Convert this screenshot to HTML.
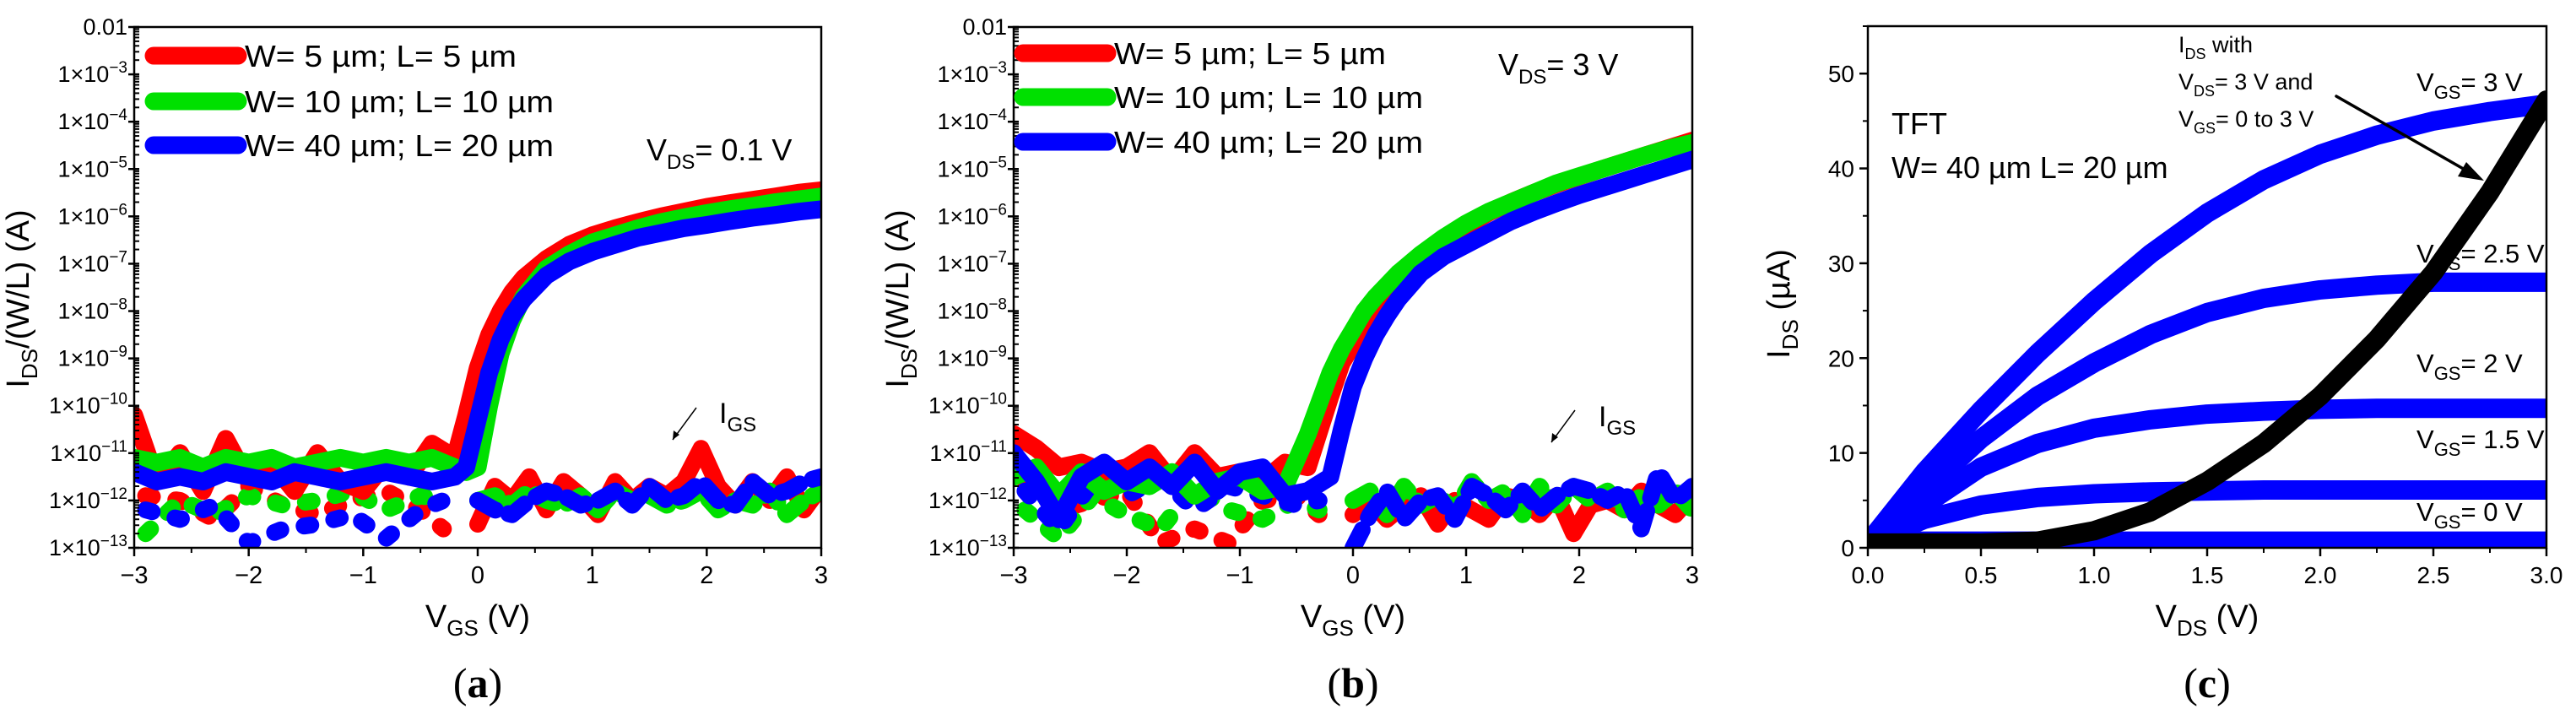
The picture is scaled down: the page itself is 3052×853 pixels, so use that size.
<!DOCTYPE html>
<html><head><meta charset="utf-8"><style>
html,body{margin:0;padding:0;background:#fff;}
svg{display:block;font-family:"Liberation Sans",sans-serif;}
</style></head><body>
<svg id="fig" width="3052" height="853" viewBox="0 0 3052 853" xmlns="http://www.w3.org/2000/svg">
<g id="pa"></g>
<g id="pb"></g>
<g id="pc"></g>
</svg>
<script>
// ---------- transfer data (log10 of I/(W/L)) ----------
const vgs = [-3,-2.8,-2.6,-2.4,-2.2,-2,-1.8,-1.6,-1.4,-1.2,-1,-0.8,-0.6,-0.4,-0.2,-0.1,0,0.1,0.2,0.3,0.4,0.6,0.8,1,1.2,1.4,1.6,1.8,2,2.2,2.4,2.6,2.8,3];
const aRed   = [-10.2,-11.6,-11.0,-11.8,-10.7,-11.6,-11.2,-11.8,-11.0,-11.6,-11.8,-11.2,-11.5,-10.8,-11.1,-10.2,-9.2,-8.5,-8.0,-7.6,-7.3,-6.9,-6.6,-6.4,-6.25,-6.12,-6.0,-5.9,-5.8,-5.72,-5.65,-5.58,-5.5,-5.45];
const aGreen = [-11.1,-11.2,-11.1,-11.3,-11.1,-11.2,-11.1,-11.3,-11.2,-11.1,-11.2,-11.1,-11.2,-11.1,-11.3,-11.4,-11.3,-10.0,-8.9,-8.2,-7.7,-7.1,-6.8,-6.55,-6.4,-6.25,-6.12,-6.02,-5.93,-5.85,-5.78,-5.7,-5.64,-5.58];
const aBlue  = [-11.4,-11.6,-11.5,-11.6,-11.4,-11.5,-11.6,-11.4,-11.5,-11.6,-11.5,-11.4,-11.5,-11.6,-11.5,-11.3,-10.3,-9.3,-8.6,-8.1,-7.75,-7.25,-6.95,-6.75,-6.6,-6.45,-6.35,-6.25,-6.18,-6.1,-6.03,-5.97,-5.9,-5.85];
const bRed   = [-10.6,-10.9,-11.3,-11.2,-11.4,-11.3,-11.0,-11.6,-11.0,-11.5,-11.4,-11.6,-11.2,-11.3,-9.8,-9.1,-8.7,-8.3,-7.95,-7.6,-7.35,-6.85,-6.5,-6.2,-5.92,-5.7,-5.5,-5.32,-5.16,-5.0,-4.85,-4.7,-4.55,-4.4];
const bGreen = [-11.5,-11.3,-11.9,-11.4,-11.8,-11.6,-11.7,-11.4,-11.9,-11.6,-11.5,-11.8,-11.7,-10.6,-9.3,-8.8,-8.4,-8.0,-7.7,-7.45,-7.2,-6.8,-6.45,-6.15,-5.9,-5.7,-5.5,-5.3,-5.15,-5.0,-4.85,-4.7,-4.56,-4.45];
const bBlue  = [-11.0,-11.6,-12.4,-11.5,-11.2,-11.6,-11.3,-11.7,-11.2,-11.8,-11.4,-11.3,-11.9,-11.8,-11.5,-10.5,-9.6,-9.0,-8.5,-8.1,-7.75,-7.2,-6.85,-6.6,-6.35,-6.1,-5.9,-5.72,-5.55,-5.4,-5.25,-5.1,-4.95,-4.8];
// gate leakage (IGS) scatter, log10
const vIgs = [0,0.15,0.3,0.45,0.6,0.75,0.9,1.05,1.2,1.35,1.5,1.65,1.8,1.95,2.1,2.25,2.4,2.55,2.7,2.85,3];
const aIgsRed   = [-12.5,-11.7,-12.0,-11.5,-12.2,-11.6,-11.9,-12.3,-11.6,-12.0,-11.7,-11.9,-11.6,-10.9,-11.7,-12.1,-11.6,-12.0,-11.5,-12.2,-11.7];
const aIgsGreen = [-12.0,-11.9,-12.1,-11.8,-12.0,-12.1,-11.9,-12.2,-11.8,-12.0,-11.9,-12.1,-12.0,-11.8,-12.2,-12.0,-12.1,-11.8,-12.3,-12.0,-11.8];
const aIgsBlue  = [-12.0,-12.2,-12.3,-12.0,-11.8,-11.9,-12.1,-12.0,-11.8,-12.1,-11.7,-12.0,-11.9,-11.6,-12.0,-12.1,-11.6,-11.9,-11.8,-11.6,-11.5];
const bIgsRed   = [-12.3,-12.0,-12.4,-12.1,-11.9,-12.5,-12.0,-12.2,-12.4,-11.9,-12.0,-12.3,-11.9,-12.7,-12.1,-12.0,-12.2,-11.8,-12.1,-12.3,-11.9];
const bIgsGreen = [-12.0,-11.8,-12.3,-11.7,-12.1,-11.9,-12.2,-11.6,-12.0,-11.8,-12.3,-11.7,-12.1,-11.7,-12.0,-11.8,-12.2,-11.9,-12.1,-11.8,-12.2];
const bIgsBlue  = [-13.0,-12.3,-11.8,-12.4,-12.0,-11.9,-12.4,-11.7,-11.9,-12.2,-11.8,-12.2,-11.9,-11.7,-11.8,-12.0,-11.8,-12.6,-11.4,-12.0,-11.7];
const vOffLow = [-2.9,-2.6,-2.3,-2.0,-1.7,-1.4,-1.1,-0.8,-0.5,-0.3];
const aLowGreen = [-12.7,-12.0,-12.3,-11.9,-12.1,-12.0,-11.8,-12.2,-11.9,-12.0];
const aLowBlue  = [-12.2,-12.4,-12.1,-12.9,-12.6,-12.5,-12.3,-12.8,-12.2,-12.0];
const aLowRed   = [-11.9,-12.0,-12.4,-11.7,-12.1,-12.3,-12.0,-11.8,-12.2,-12.6];
const bLowGreen = [-12.2,-12.8,-11.9,-12.3,-12.6,-11.7,-12.2,-12.4,-12.0,-12.2];
const bLowRed   = [-11.6,-12.2,-12.0,-11.8,-12.9,-12.6,-12.9,-12.0,-11.9,-12.3];
const bLowBlue  = [-11.8,-12.6,-11.6,-11.9,-11.5,-12.2,-11.7,-11.9,-12.1,-12.0];
const logTicks = [-2,-3,-4,-5,-6,-7,-8,-9,-10,-11,-12,-13];
const vgsTicks = [-3,-2,-1,0,1,2,3];
// ---------- output data (uA) ----------
const vds = [0,0.25,0.5,0.75,1,1.25,1.5,1.75,2,2.25,2.5,2.75,3];
const id30 = [0.5,8,14.5,20.5,26,31,35.3,38.8,41.5,43.5,45,46,46.8];
const id25 = [0.5,6,11.5,16,19.5,22.5,24.8,26.3,27.2,27.7,28,28,28];
const id20 = [0.5,4.5,8.5,11,12.6,13.5,14.1,14.4,14.6,14.7,14.7,14.7,14.7];
const id15 = [0.5,3,4.5,5.3,5.7,5.9,6.0,6.1,6.1,6.1,6.1,6.1,6.1];
const id00 = [0.7,0.7,0.7,0.7,0.7,0.7,0.7,0.7,0.7,0.7,0.7,0.7,0.7];
const idSat = [0.5,0.5,0.5,0.7,1.8,3.8,7,11,16,22,29,37.5,47.2];
const cyTicks = [0,10,20,30,40,50];
const cxTicks = [0,0.5,1,1.5,2,2.5,3];

const NS='http://www.w3.org/2000/svg';
function mk(parent,tag,attrs){const e=document.createElementNS(NS,tag);for(const k in attrs)e.setAttribute(k,attrs[k]);parent.appendChild(e);return e;}
function txt(parent,x,y,html,attrs){const t=mk(parent,'text',Object.assign({x:x,y:y,fill:'#000'},attrs||{}));t.innerHTML=html;return t;}

function lineOf(parent,xs,ys,X,Y,color,w,dash){
  const pts=xs.map((v,i)=>X(v).toFixed(1)+','+Y(ys[i]).toFixed(1)).join(' ');
  const a={points:pts,fill:'none',stroke:color,'stroke-width':w,'stroke-linecap':'round','stroke-linejoin':'round'};
  if(dash)a['stroke-dasharray']=dash;
  return mk(parent,'polyline',a);
}

function transferPanel(g,L,R,T,B,series,igs,low,vdsLabel,legendX,legendYs,vdsPos,igsPos,arrow,letter){
  const X=v=>L+(v+3)*(R-L)/6;
  const Y=l=>T+(-2-l)*(B-T)/11;
  const clip='clip'+letter;
  const cp=mk(g,'clipPath',{id:clip});mk(cp,'rect',{x:L,y:T,width:R-L,height:B-T});
  const d=mk(g,'g',{'clip-path':'url(#'+clip+')'});
  
  
  const cols=['#ff0000','#00e000','#0000ff'];
  low.forEach((arr,i)=>{const el=lineOf(d,vOffLow,arr[1],X,Y,arr[0],20,'8 28');});
  igs.forEach((arr,i)=>{const el=lineOf(d,vIgs,arr,X,Y,cols[i],20,i==0?null:'24 16');});
  series.forEach((arr,i)=>{const el=lineOf(d,vgs,arr,X,Y,cols[i],21,null);});
  const fr=mk(g,'rect',{x:L,y:T,width:R-L,height:B-T,fill:'none',stroke:'#000','stroke-width':2.5});
  
  logTicks.forEach(l=>{
    const y=Y(l);
    mk(g,'line',{x1:L-7,y1:y,x2:L+6,y2:y,stroke:'#000','stroke-width':2.5});
    if(l>-13)for(let m=2;m<=9;m++){const ym=Y(l-1+Math.log10(m));mk(g,'line',{x1:L,y1:ym,x2:L+6,y2:ym,stroke:'#000','stroke-width':2});}
    const lab = l==-2?'0.01':'1×10<tspan dy="-11" font-size="19">'+(l<0?'−':'')+Math.abs(l)+'</tspan>';
    const t=txt(g,L-8,y+9,lab,{'text-anchor':'end','font-size':27});
    
  });
  vgsTicks.forEach(v=>{
    const x=X(v);
    mk(g,'line',{x1:x,y1:B,x2:x,y2:B+10,stroke:'#000','stroke-width':2.5});
    if(v<3){const xm=X(v+0.5);mk(g,'line',{x1:xm,y1:B,x2:xm,y2:B+6,stroke:'#000','stroke-width':2});}
    const t=txt(g,x,B+42,(v<0?'−':'')+Math.abs(v),{'text-anchor':'middle','font-size':29});
    
  });
  let t=txt(g,(L+R)/2,743,'V<tspan dy="10" font-size="26">GS</tspan><tspan dy="-10"> (V)</tspan>',{'text-anchor':'middle','font-size':38});
  
  t=txt(g,0,0,'I<tspan dy="10" font-size="26">DS</tspan><tspan dy="-10">/(W/L) (A)</tspan>',{'text-anchor':'middle','font-size':38,transform:'translate('+(L-125)+',354) rotate(-90)'});
  
  const labels=['W= 5 µm; L= 5 µm','W= 10 µm; L= 10 µm','W= 40 µm; L= 20 µm'];
  const widths=[322,366,366];
  labels.forEach((s,i)=>{
    const y=legendYs[i];
    const ln=mk(g,'line',{x1:legendX,y1:y,x2:legendX+100,y2:y,stroke:cols[i],'stroke-width':21,'stroke-linecap':'round'});
    
    const lt=txt(g,legendX+108,y+13,s,{'font-size':36,textLength:widths[i],lengthAdjust:'spacingAndGlyphs'});
    
  });
  t=txt(g,vdsPos[0],vdsPos[1],'V<tspan dy="10" font-size="24">DS</tspan><tspan dy="-10">= '+vdsLabel+'</tspan>',{'font-size':36});
  
  t=txt(g,igsPos[0],igsPos[1],'I<tspan dy="10" font-size="24">GS</tspan>',{'font-size':34});
  
  const ar=mk(g,'line',{x1:arrow[0],y1:arrow[1],x2:arrow[2],y2:arrow[3],stroke:'#000','stroke-width':1.5});
  
  mk(g,'polygon',{points:(arrow[2])+','+(arrow[3])+' '+(arrow[2]+1)+','+(arrow[3]-11)+' '+(arrow[2]+8)+','+(arrow[3]-6),fill:'#000'});
  t=txt(g,(L+R)/2,826,'(<tspan font-weight="bold">'+letter+'</tspan>)',{'text-anchor':'middle','font-size':50,'font-family':'"Liberation Serif",serif'});
  
}

transferPanel(document.getElementById('pa'),159,973,32,649,[aRed,aGreen,aBlue],[aIgsRed,aIgsGreen,aIgsBlue],
  [['#ff0000',aLowRed],['#00e000',aLowGreen],['#0000ff',aLowBlue]],'0.1 V',182,[66,120,172],[766,190],[852,501],[825,483,797,521],'a');
transferPanel(document.getElementById('pb'),1201,2005,32,649,[bRed,bGreen,bBlue],[bIgsRed,bIgsGreen,bIgsBlue],
  [['#ff0000',bLowRed],['#00e000',bLowGreen],['#0000ff',bLowBlue]],'3 V',1212,[63,115,168],[1775,89],[1894,505],[1866,486,1838,524],'b');

(function(){
  const g=document.getElementById('pc');
  const L=2213,R=3017,T=31,B=649;
  const X=v=>L+v*(R-L)/3;
  const Y=v=>B-v*(B-T)/55;
  const cp=mk(g,'clipPath',{id:'clipc'});mk(cp,'rect',{x:L,y:T-10,width:R-L,height:B-T+10});
  const d=mk(g,'g',{'clip-path':'url(#clipc)'});
  
  
  [[id00,'vgs-0v'],[id15,'vgs-1.5v'],[id20,'vgs-2v'],[id25,'vgs-2.5v'],[id30,'vgs-3v']].forEach(s=>{
    const el=lineOf(d,vds,s[0],X,Y,'#0000ff',23,null);
    
  });
  const bl=lineOf(d,vds,idSat,X,Y,'#000',23,null);
  
  const fr=mk(g,'rect',{x:L,y:T,width:R-L,height:B-T,fill:'none',stroke:'#000','stroke-width':2.5});
  
  cyTicks.forEach(v=>{
    const y=Y(v);
    mk(g,'line',{x1:L-10,y1:y,x2:L,y2:y,stroke:'#000','stroke-width':2.5});
    const ym=Y(v+5);mk(g,'line',{x1:L-6,y1:ym,x2:L,y2:ym,stroke:'#000','stroke-width':2});
    const t=txt(g,L-16,y+10,String(v),{'text-anchor':'end','font-size':28});
    
  });
  cxTicks.forEach(v=>{
    const x=X(v);
    mk(g,'line',{x1:x,y1:B,x2:x,y2:B+10,stroke:'#000','stroke-width':2.5});
    if(v<3){const xm=X(v+0.25);mk(g,'line',{x1:xm,y1:B,x2:xm,y2:B+6,stroke:'#000','stroke-width':2});}
    const t=txt(g,x,B+42,v.toFixed(1),{'text-anchor':'middle','font-size':28});
    
  });
  let t=txt(g,(L+R)/2,743,'V<tspan dy="10" font-size="26">DS</tspan><tspan dy="-10"> (V)</tspan>',{'text-anchor':'middle','font-size':38});
  
  t=txt(g,0,0,'I<tspan dy="10" font-size="26">DS</tspan><tspan dy="-10"> (µA)</tspan>',{'text-anchor':'middle','font-size':38,transform:'translate(2120,360) rotate(-90)'});
  
  t=txt(g,2241,159,'TFT',{'font-size':36});
  t=txt(g,2241,211,'W= 40 µm L= 20 µm',{'font-size':36});
  const ann=[['I','DS',' with',62],['V','DS','= 3 V and',106],['V','GS','= 0 to 3 V',150]];
  ann.forEach(a=>{const e=txt(g,2581,a[3],a[0]+'<tspan dy="8" font-size="18">'+a[1]+'</tspan><tspan dy="-8">'+a[2]+'</tspan>',{'font-size':27});});
  const vl=[['3 V',108],['2.5 V',311],['2 V',441],['1.5 V',531],['0 V',617]];
  vl.forEach(a=>{const e=txt(g,2863,a[1],'V<tspan dy="9" font-size="22">GS</tspan><tspan dy="-9">= '+a[0]+'</tspan>',{'font-size':31});});
  const ar=mk(g,'line',{x1:2768,y1:114,x2:2936,y2:210,stroke:'#000','stroke-width':3.5,'stroke-linecap':'round'});
  
  mk(g,'polygon',{points:'2943,214 2912,209 2922,192',fill:'#000'});
  t=txt(g,(L+R)/2,826,'(<tspan font-weight="bold">c</tspan>)',{'text-anchor':'middle','font-size':50,'font-family':'"Liberation Serif",serif'});
  
})();
</script>
</body></html>
